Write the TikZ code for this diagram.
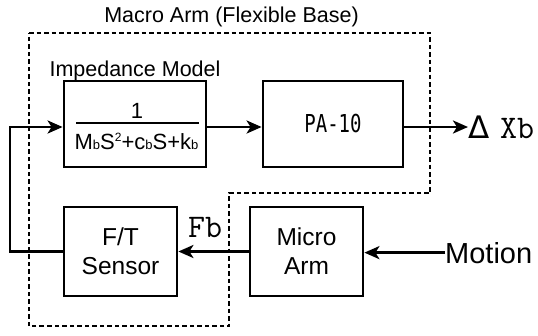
\documentclass[tikz,border=0pt]{standalone}
\usepackage{fontspec}
\setmainfont{Liberation Sans}
\newfontfamily\dvmono{DejaVu Sans Mono}
\newfontfamily\dvsans{DejaVu Sans}
\usepackage{graphicx}
\usetikzlibrary{arrows.meta}
\newcommand\mysubb[1]{{\fontsize{13}{13}\selectfont #1}}
\newcommand\mysupp[1]{\raisebox{8pt}{\fontsize{12}{12}\selectfont #1}}
\begin{document}
\begin{tikzpicture}[x=1pt,y=-1pt,
  blk/.style={draw, line width=2.8pt, inner sep=0pt, align=center},
  conn/.style={line width=2.8pt},
  arr/.style={conn, -{Stealth[length=15pt,width=13pt,inset=4pt]}},
  region/.style={line width=2.6pt, dash pattern=on 4.5pt off 3pt},
  lbl/.style={inner sep=0pt},
  boxtxt/.style={font=\fontsize{24.5}{29}\selectfont}]
\useasboundingbox (0,0) rectangle (538,335);
% dotted region
\draw[region] (29,33) -- (430,33) -- (430,193) -- (229,193) -- (229,326) -- (29,326) -- cycle;
% titles
\node[lbl, anchor=base, font=\fontsize{21.5}{21.5}\selectfont] (ttl) at (231.5,22) {Macro Arm (Flexible Base)};
\node[lbl, anchor=base, font=\fontsize{21.5}{21.5}\selectfont] (imptl) at (135,76) {Impedance Model};
% blocks
\node[blk, minimum width=142pt, minimum height=86pt] (imp) at (135,124) {};
\node[blk, minimum width=140pt, minimum height=86pt] (pa) at (333,124) {\dvmono\fontsize{19}{19}\selectfont\scalebox{1}[1.3]{PA-10}};
\node[blk, boxtxt, minimum width=113pt, minimum height=89pt] (ft) at (120.5,251.5) {F/T\\Sensor};
\node[blk, boxtxt, minimum width=113pt, minimum height=89pt] (micro) at (306.5,251.5) {Micro\\Arm};
% fraction
\node[lbl, anchor=base, font=\fontsize{22}{22}\selectfont] (num) at (137,118) {1};
\draw[line width=2.2pt] (76,123) -- (199,123);
\node[lbl, anchor=base, font=\fontsize{22}{22}\selectfont] (den) at (136.5,149) {M\mysubb{b}S\mysupp{2}+c\mysubb{b}S+k\mysubb{b}};
% outputs / inputs
\node[lbl, anchor=base west, font=\dvsans\fontsize{31}{31}\selectfont] (dl) at (468,138) {Δ};
\node[lbl, anchor=base west, font=\ttfamily\fontsize{33}{33}\selectfont] (xb) at (500,138) {Xb};
\node[lbl, anchor=base west, font=\fontsize{29}{29}\selectfont] (mot) at (445,263) {Motion};
\node[lbl, anchor=base west, font=\ttfamily\fontsize{33}{33}\selectfont] (fb) at (188,237) {Fb};
% connectors
\coordinate (r1) at (0,127);
\coordinate (lft) at (10,200);
\draw[arr] (imp.east |- r1) -- (pa.west |- r1);
\draw[arr] (pa.east |- r1) -- (dl.west |- r1);
\draw[arr] (mot.west) -- (micro.east |- mot.west);
\draw[arr] (micro.west) -- (ft.east);
\draw[arr] (ft.west) -| (lft) |- (imp.west |- r1);
\end{tikzpicture}
\end{document}
